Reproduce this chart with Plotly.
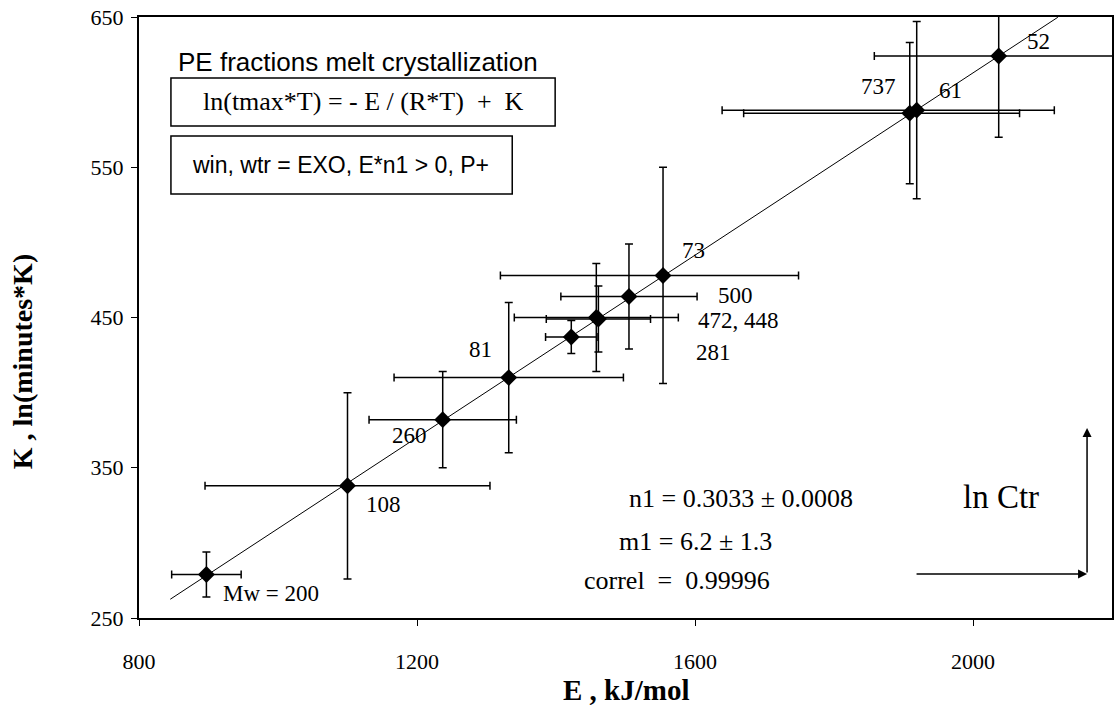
import plotly.graph_objects as go

# ---------------- data ----------------
labels = ["Mw = 200", "108", "260", "81", "281", "472", "448", "500", "73", "737", "61", "52"]
E_vals = [897, 1100, 1237, 1332, 1422, 1458, 1461, 1505, 1554, 1909, 1919, 2037]
K_vals = [279, 338, 382, 410, 437, 450, 449, 464, 478, 586, 588, 624]
E_err_plus = [50, 205, 106, 165, 37, 118, 75, 98, 195, 158, 198, 179]
E_err_minus = [50, 205, 106, 165, 37, 118, 75, 98, 234, 239, 280, 179]
K_err = [15, 62, 32, 50, 11, 36, 22, 35, 72, 47, 59, 54]

n1 = 0.3033
m1 = 6.2
fit_E = [845, 2122]
fit_K = [n1 * e + m1 for e in fit_E]

x_ticks = [800, 1200, 1600, 2000]
y_ticks = [250, 350, 450, 550, 650]

# ---------------- layout helpers ----------------
L, R, T, B = 139, 1114, 17, 618
W, H = 1116, 710


def px(x):
    return (x - L) / (R - L)


def py(y):
    return (B - y) / (B - T)


SERIF = "Liberation Serif"
SANS = "Liberation Sans"

fig = go.Figure()

fig.add_trace(go.Scatter(
    x=fit_E, y=fit_K, mode="lines",
    line=dict(color="black", width=1), showlegend=False, hoverinfo="skip"))

fig.add_trace(go.Scatter(
    x=E_vals, y=K_vals, mode="markers",
    marker=dict(symbol="diamond", size=13, color="black"),
    error_x=dict(type="data", array=E_err_plus, arrayminus=E_err_minus, symmetric=False,
                 color="black", thickness=1.5, width=4),
    error_y=dict(type="data", array=K_err, color="black", thickness=1.5, width=4),
    showlegend=False, cliponaxis=False))

ann = []


def text(s, x, y, size, font=SERIF, **kw):
    ann.append(dict(text=s, x=px(x), y=py(y), xref="paper", yref="paper",
                    showarrow=False, xanchor="center", yanchor="middle",
                    font=dict(family=font, size=size, color="black"), **kw))


# point labels
LS = 23
text("Mw = 200", 271, 593, LS)
text("108", 384, 505, LS)
text("260", 410, 435, LS)
text("81", 481, 350, LS)
text("281", 715, 353, LS)
text("472, 448", 740, 320, LS)
text("500", 737, 295, LS)
text("73", 695, 250, LS)
text("737", 880, 86, LS)
text("61", 952, 90, LS)
text("52", 1040, 42, LS)

# titles / formulas
text("PE fractions melt crystallization", 358, 62, 26, SANS)
text("ln(tmax*T) = - E / (R*T)  +  K", 364, 102, 26)
text("win, wtr = EXO, E*n1 > 0, P+", 341, 165, 23, SANS)

text("n1 = 0.3033 ± 0.0008", 742, 498, 26)
text("m1 = 6.2 ± 1.3", 697, 541, 26)
text("correl  =  0.99996", 678, 580, 26)
text("ln Ctr", 1003, 497, 33)

# axis titles
text("<b>E , kJ/mol</b>", 628, 690, 29)
text("<b>K , ln(minutes*K)</b>", 23, 362, 28, textangle=-90)

# arrows
ann.append(dict(x=px(1089), y=py(574), xref="paper", yref="paper", ax=-172, ay=0,
                text="", showarrow=True,
                arrowhead=2, arrowsize=1.2, arrowwidth=1.5, arrowcolor="black"))
ann.append(dict(x=px(1089), y=py(428), xref="paper", yref="paper", ax=0, ay=146,
                text="", showarrow=True,
                arrowhead=2, arrowsize=1.2, arrowwidth=1.5, arrowcolor="black"))

shapes = [
    dict(type="rect", xref="paper", yref="paper", x0=px(171), x1=px(556), y0=py(78), y1=py(126),
         line=dict(color="black", width=1.5)),
    dict(type="rect", xref="paper", yref="paper", x0=px(171), x1=px(513), y0=py(136), y1=py(194),
         line=dict(color="black", width=1.5)),
]

axis_common = dict(showgrid=False, zeroline=False, showline=True, linecolor="black",
                   linewidth=2, mirror=True, ticks="outside", ticklen=6, tickwidth=1,
                   tickcolor="black",
                   tickfont=dict(family=SERIF, size=22, color="black"))

fig.update_layout(
    width=W, height=H,
    margin=dict(l=L, r=W - R, t=T, b=H - B),
    paper_bgcolor="white", plot_bgcolor="white",
    xaxis=dict(range=[800, 2200], tickvals=x_ticks, ticklabelstandoff=17, **axis_common),
    yaxis=dict(range=[250, 650], tickvals=y_ticks, ticklabelstandoff=3, **axis_common),
    annotations=ann, shapes=shapes,
)

fig.write_html("out.html")
